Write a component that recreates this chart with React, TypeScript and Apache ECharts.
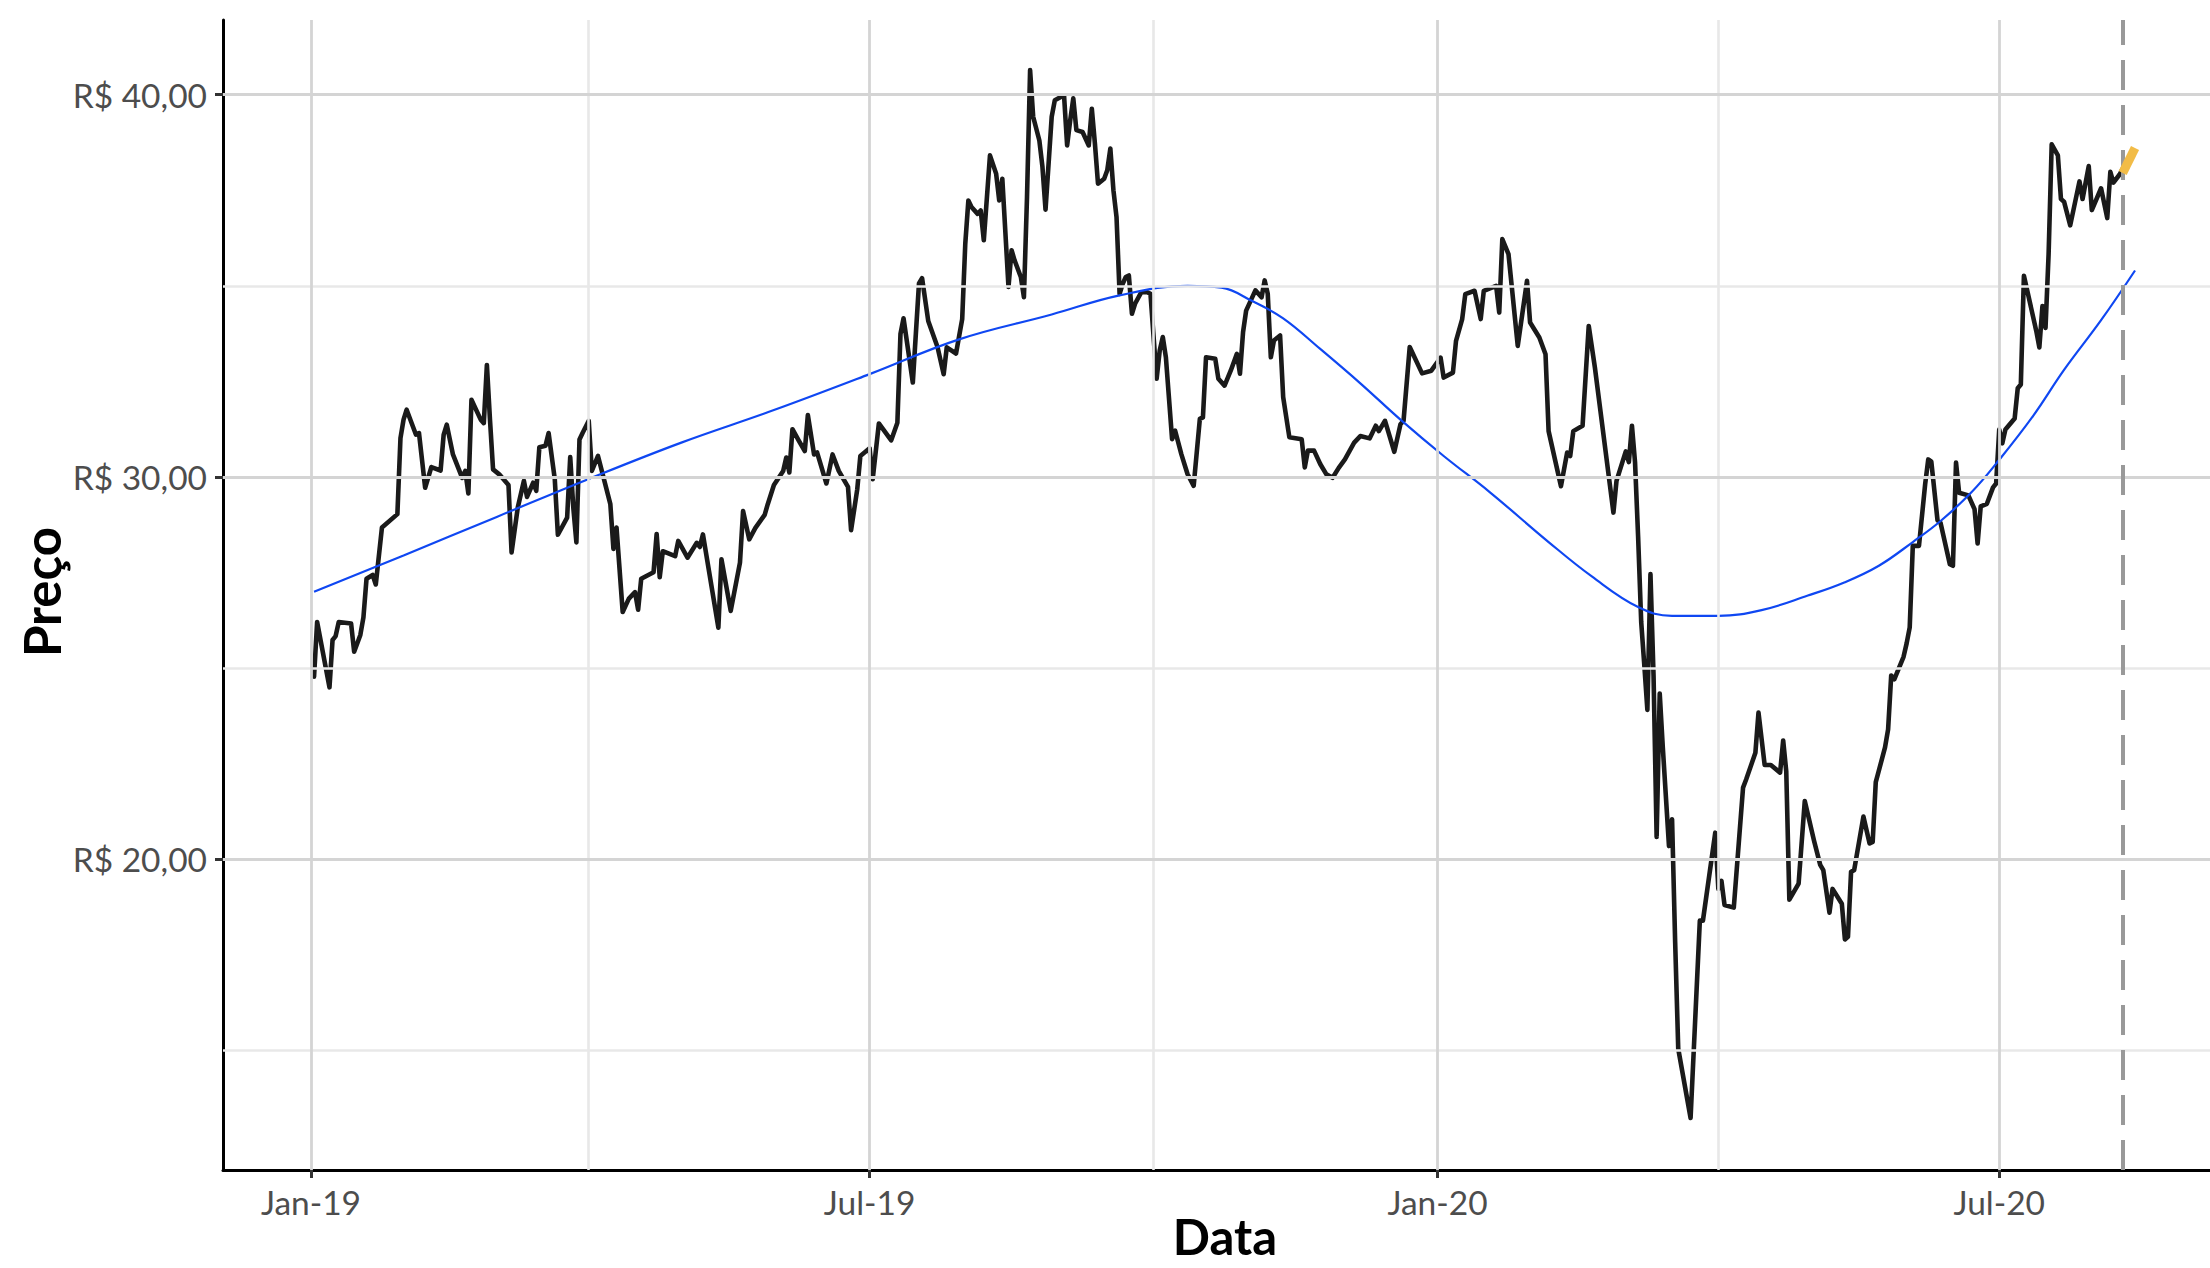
import React, { useEffect, useRef } from "react";
import * as echarts from "echarts";

// ---- data ----
const priceDates: string[] = [
  "2019-01-02","2019-01-03","2019-01-07","2019-01-08","2019-01-09","2019-01-10","2019-01-14","2019-01-15","2019-01-17","2019-01-18",
  "2019-01-19","2019-01-21","2019-01-22","2019-01-24","2019-01-29","2019-01-30","2019-01-31","2019-02-01","2019-02-04","2019-02-05",
  "2019-02-07","2019-02-09","2019-02-12","2019-02-13","2019-02-14","2019-02-16","2019-02-19","2019-02-20","2019-02-21","2019-02-22",
  "2019-02-25","2019-02-26","2019-02-27","2019-02-28","2019-03-01","2019-03-03","2019-03-06","2019-03-07","2019-03-09","2019-03-11",
  "2019-03-12","2019-03-14","2019-03-15","2019-03-16","2019-03-18","2019-03-19","2019-03-21","2019-03-22","2019-03-25","2019-03-26",
  "2019-03-27","2019-03-28","2019-03-29","2019-03-30","2019-04-01","2019-04-02","2019-04-04","2019-04-08","2019-04-09","2019-04-10",
  "2019-04-12","2019-04-14","2019-04-16","2019-04-17","2019-04-18","2019-04-22","2019-04-23","2019-04-24","2019-04-25","2019-04-29",
  "2019-04-30","2019-05-03","2019-05-06","2019-05-07","2019-05-08","2019-05-13","2019-05-14","2019-05-17","2019-05-20","2019-05-21",
  "2019-05-23","2019-05-25","2019-05-28","2019-05-29","2019-05-31","2019-06-03","2019-06-04","2019-06-05","2019-06-06","2019-06-08",
  "2019-06-10","2019-06-11","2019-06-13","2019-06-14","2019-06-17","2019-06-19","2019-06-21","2019-06-24","2019-06-25","2019-06-27",
  "2019-06-28","2019-07-01","2019-07-02","2019-07-04","2019-07-08","2019-07-10","2019-07-11","2019-07-12","2019-07-15","2019-07-17",
  "2019-07-18","2019-07-20","2019-07-23","2019-07-25","2019-07-26","2019-07-29","2019-07-31","2019-08-01","2019-08-02","2019-08-03",
  "2019-08-05","2019-08-06","2019-08-07","2019-08-09","2019-08-11","2019-08-12","2019-08-13","2019-08-15","2019-08-16","2019-08-17",
  "2019-08-19","2019-08-20","2019-08-21","2019-08-22","2019-08-23","2019-08-25","2019-08-26","2019-08-27","2019-08-29","2019-08-30",
  "2019-09-02","2019-09-03","2019-09-04","2019-09-05","2019-09-06","2019-09-08","2019-09-10","2019-09-11","2019-09-12","2019-09-13",
  "2019-09-15","2019-09-16","2019-09-17","2019-09-18","2019-09-19","2019-09-20","2019-09-21","2019-09-22","2019-09-23","2019-09-24",
  "2019-09-25","2019-09-27","2019-09-29","2019-09-30","2019-10-02","2019-10-03","2019-10-04","2019-10-05","2019-10-07","2019-10-08",
  "2019-10-10","2019-10-12","2019-10-14","2019-10-16","2019-10-17","2019-10-18","2019-10-21","2019-10-22","2019-10-24","2019-10-26",
  "2019-10-28","2019-10-29","2019-10-30","2019-10-31","2019-11-03","2019-11-05","2019-11-06","2019-11-07","2019-11-08","2019-11-09",
  "2019-11-11","2019-11-12","2019-11-14","2019-11-18","2019-11-19","2019-11-20","2019-11-22","2019-11-24","2019-11-26","2019-11-28",
  "2019-11-30","2019-12-02","2019-12-05","2019-12-07","2019-12-10","2019-12-12","2019-12-13","2019-12-15","2019-12-18","2019-12-20",
  "2019-12-21","2019-12-23","2019-12-27","2019-12-30","2020-01-02","2020-01-03","2020-01-06","2020-01-07","2020-01-09","2020-01-10",
  "2020-01-13","2020-01-15","2020-01-16","2020-01-20","2020-01-21","2020-01-22","2020-01-24","2020-01-27","2020-01-30","2020-01-31",
  "2020-02-03","2020-02-05","2020-02-06","2020-02-10","2020-02-12","2020-02-13","2020-02-14","2020-02-17","2020-02-19","2020-02-21",
  "2020-02-27","2020-02-28","2020-03-02","2020-03-03","2020-03-04","2020-03-05","2020-03-06","2020-03-07","2020-03-08","2020-03-09",
  "2020-03-10","2020-03-11","2020-03-12","2020-03-13","2020-03-14","2020-03-16","2020-03-17","2020-03-18","2020-03-19","2020-03-23",
  "2020-03-26","2020-03-27","2020-03-31","2020-04-01","2020-04-02","2020-04-03","2020-04-06","2020-04-09","2020-04-10","2020-04-13",
  "2020-04-14","2020-04-16","2020-04-18","2020-04-21","2020-04-22","2020-04-23","2020-04-24","2020-04-27","2020-04-29","2020-05-02",
  "2020-05-04","2020-05-05","2020-05-07","2020-05-08","2020-05-11","2020-05-12","2020-05-13","2020-05-14","2020-05-15","2020-05-18",
  "2020-05-20","2020-05-21","2020-05-22","2020-05-25","2020-05-26","2020-05-27","2020-05-28","2020-05-31","2020-06-01","2020-06-02",
  "2020-06-03","2020-06-05","2020-06-07","2020-06-08","2020-06-09","2020-06-11","2020-06-12","2020-06-15","2020-06-16","2020-06-17",
  "2020-06-18","2020-06-21","2020-06-23","2020-06-24","2020-06-25","2020-06-27","2020-06-29","2020-06-30","2020-07-01","2020-07-02",
  "2020-07-03","2020-07-06","2020-07-07","2020-07-08","2020-07-09","2020-07-13","2020-07-14","2020-07-15","2020-07-16","2020-07-17",
  "2020-07-18","2020-07-20","2020-07-21","2020-07-22","2020-07-24","2020-07-27","2020-07-28","2020-07-30","2020-07-31","2020-08-03",
  "2020-08-05","2020-08-06","2020-08-07","2020-08-09","2020-08-10",
];

const priceValues: number[] = [
  24.78,26.21,24.5,25.74,25.84,26.21,26.17,25.43,25.87,26.33,
  27.34,27.44,27.19,28.68,29.03,31.02,31.5,31.76,31.11,31.15,
  29.72,30.26,30.17,31.11,31.37,30.59,29.98,30.16,29.57,32.02,
  31.5,31.41,32.93,31.5,30.2,30.07,29.79,28.03,29.2,29.9,
  29.48,29.85,29.64,30.78,30.82,31.15,29.94,28.49,28.94,30.52,
  29.2,28.29,30.98,31.15,31.47,30.16,30.55,29.29,28.12,28.68,
  26.47,26.82,26.99,26.53,27.34,27.51,28.51,27.38,28.06,27.93,
  28.33,27.89,28.28,28.17,28.5,26.06,27.85,26.5,27.76,29.11,
  28.37,28.67,29.01,29.29,29.79,30.16,30.51,30.12,31.25,30.96,
  30.68,31.62,30.59,30.64,29.83,30.59,30.16,29.74,28.61,29.68,
  30.55,30.75,29.94,31.4,30.96,31.42,33.74,34.15,32.47,35.06,
  35.2,34.08,33.4,32.69,33.39,33.23,34.13,36.1,37.23,37.06,
  36.88,36.97,36.19,38.41,37.93,37.23,37.8,34.97,35.93,35.66,
  35.23,34.7,37.32,40.64,39.42,38.8,38.11,36.99,39.42,39.85,
  39.98,38.67,39.33,39.9,39.07,39.02,38.67,39.63,38.72,37.67,
  37.8,38.02,38.59,37.5,36.8,34.79,35.05,35.23,35.27,34.27,
  34.53,34.83,34.83,34.79,32.57,33.31,33.66,33.13,30.99,31.21,
  30.6,30.08,29.77,31.52,31.56,33.13,33.09,32.57,32.39,32.78,
  33.22,32.7,33.79,34.35,34.88,34.7,35.14,34.79,33.13,33.57,
  33.7,32.09,31.04,30.99,30.25,30.69,30.69,30.34,30.07,29.98,
  30.24,30.46,30.9,31.07,31.01,31.34,31.2,31.47,30.66,31.38,
  31.47,33.4,32.71,32.78,33.12,32.6,32.73,33.56,34.13,34.78,
  34.87,34.13,34.87,35.0,34.3,36.22,35.83,33.43,35.13,34.04,
  33.65,33.21,31.2,29.76,30.64,30.55,31.2,31.34,33.95,32.86,
  29.07,29.9,30.67,30.39,31.34,30.39,28.44,26.21,25.09,23.91,
  27.46,24.81,20.59,24.34,22.93,20.35,21.05,17.84,15.05,13.24,
  18.4,18.4,20.7,19.23,19.44,18.81,18.74,21.88,22.09,22.79,
  23.84,22.47,22.47,22.27,23.11,22.3,18.95,19.37,21.53,20.49,
  19.86,19.72,18.61,19.23,18.84,17.91,17.98,19.68,19.72,21.12,
  20.42,20.46,22.02,22.93,23.4,24.81,24.71,25.3,25.65,26.07,
  28.2,28.2,29.81,30.46,30.4,28.87,28.8,27.72,27.68,30.38,
  29.59,29.52,29.16,28.26,29.23,29.3,29.73,29.83,31.24,30.88,
  31.24,31.53,32.32,32.42,35.26,33.82,33.39,34.47,33.9,35.83,
  38.7,38.41,37.27,37.2,36.58,37.73,37.27,38.13,36.98,37.55,
  36.77,37.98,37.7,37.91,38.06,
];

const trendDates: string[] = [
  "2019-01-02","2019-01-31","2019-03-02","2019-04-01","2019-05-01","2019-05-31","2019-07-01","2019-07-30","2019-08-29","2019-09-20",
  "2019-10-12","2019-10-23","2019-11-02","2019-11-12","2019-11-24","2019-12-07","2019-12-20","2020-01-03","2020-01-18","2020-02-06",
  "2020-02-20","2020-03-06","2020-03-17","2020-04-01","2020-04-15","2020-04-30","2020-05-12","2020-05-23","2020-06-03","2020-06-12",
  "2020-06-22","2020-07-01","2020-07-12","2020-07-22","2020-08-03","2020-08-14",
];
const trendValues: number[] = [
  27.0,27.95,28.95,29.95,30.9,31.75,32.69,33.6,34.25,34.75,
  35.0,34.95,34.6,34.15,33.35,32.45,31.5,30.55,29.6,28.3,
  27.4,26.6,26.37,26.37,26.52,26.9,27.25,27.68,28.3,28.85,
  29.6,30.45,31.6,32.8,34.1,35.4,
];

const forecastDates: string[] = ["2020-08-10", "2020-08-14"];
const forecastValues: number[] = [37.95, 38.6];

const cutoffDate = "2020-08-10";

const yLabelTicks: number[] = [20, 30, 40];
const yMinorGrid: number[] = [15, 25, 35];
const xLabelTicks: string[] = ["2019-01-01", "2019-07-01", "2020-01-01", "2020-07-01"];
const xMinorGrid: string[] = ["2019-04-01", "2019-10-01", "2020-04-01"];
const monthNames: string[] = ["Jan","Feb","Mar","Apr","May","Jun","Jul","Aug","Sep","Oct","Nov","Dec"];

const yRange = [11.88, 41.95];
const xRangeStart = "2018-12-03T12:00:00";
const xRangeEnd = "2020-09-07T07:00:00";

const FONT = "Lato";

function ts(s: string): number {
  if (s.length === 10) {
    const [y, m, d] = s.split("-").map(Number);
    return new Date(y, m - 1, d).getTime();
  }
  return new Date(s).getTime();
}

export default function App() {
  const ref = useRef<HTMLDivElement>(null);
  useEffect(() => {
    if (!ref.current) return;
    const chart = echarts.init(ref.current, undefined, { renderer: "svg" });
    const majorColor = "#d4d4d4";
    const minorColor = "#e8e8e8";
    const option: any = {
      animation: false,
      backgroundColor: "#ffffff",
      grid: { left: 223, right: 0, top: 20, bottom: 98, containLabel: false },
      xAxis: {
        type: "value",
        min: ts(xRangeStart),
        max: ts(xRangeEnd),
        scale: true,
        splitLine: { show: false },
        axisLine: { show: true, onZero: false, lineStyle: { color: "#000000", width: 3 } },
        axisTick: {
          show: true,
          length: 8,
          lineStyle: { color: "#333333", width: 3 },
          customValues: xLabelTicks.map(ts),
        },
        axisLabel: {
          show: true,
          margin: 15,
          fontFamily: FONT,
          fontSize: 33.5,
          color: "#4d4d4d",
          customValues: xLabelTicks.map(ts),
          formatter: (v: number) => {
            const d = new Date(v);
            return monthNames[d.getMonth()] + "-" + String(d.getFullYear()).slice(2);
          },
        },
      },
      yAxis: {
        type: "value",
        min: yRange[0],
        max: yRange[1],
        splitLine: { show: false },
        axisLine: { show: true, onZero: false, lineStyle: { color: "#000000", width: 3 } },
        axisTick: {
          show: true,
          length: 8,
          lineStyle: { color: "#333333", width: 3 },
          customValues: yLabelTicks,
        },
        axisLabel: {
          show: true,
          margin: 16,
          fontFamily: FONT,
          fontSize: 33.5,
          color: "#4d4d4d",
          customValues: yLabelTicks,
          formatter: (v: number) => "R$ " + v.toFixed(2).replace(".", ","),
        },
      },
      graphic: [
        {
          type: "text",
          x: 1225,
          y: 1236,
          style: {
            text: "Data",
            font: `bold 49px ${FONT}`,
            lineHeight: 46,
            fill: "#000000",
            align: "center",
            verticalAlign: "middle",
          },
        },
        {
          type: "text",
          x: 41,
          y: 592,
          rotation: Math.PI / 2,
          style: {
            text: "Preço",
            font: `bold 51px ${FONT}`,
            lineHeight: 48,
            fill: "#000000",
            align: "center",
            verticalAlign: "middle",
          },
        },
      ],
      series: [
        {
          name: "grid",
          type: "line",
          data: [],
          z: 0,
          silent: true,
          markLine: {
            silent: true,
            symbol: "none",
            label: { show: false },
            animation: false,
            data: [
              ...yMinorGrid.map((v) => ({ yAxis: v, lineStyle: { color: minorColor, width: 2.6, type: "solid" } })),
              ...xMinorGrid.map((d) => ({ xAxis: ts(d), lineStyle: { color: minorColor, width: 2.6, type: "solid" } })),
              ...yLabelTicks.map((v) => ({ yAxis: v, lineStyle: { color: majorColor, width: 2.8, type: "solid" } })),
              ...xLabelTicks.map((d) => ({ xAxis: ts(d), lineStyle: { color: majorColor, width: 2.8, type: "solid" } })),
            ],
          },
        },
        {
          name: "Preço",
          type: "line",
          data: priceDates.map((d, i) => [ts(d), priceValues[i]]),
          showSymbol: false,
          symbol: "none",
          z: 3,
          lineStyle: { color: "#1a1a1a", width: 4.6, join: "round", cap: "round" },
        },
        {
          name: "Tendência",
          type: "line",
          data: trendDates.map((d, i) => [ts(d), trendValues[i]]),
          showSymbol: false,
          symbol: "none",
          smooth: 0.4,
          z: 4,
          lineStyle: { color: "#0f47f2", width: 2.2 },
        },
        {
          name: "Previsão",
          type: "line",
          data: forecastDates.map((d, i) => [ts(d), forecastValues[i]]),
          showSymbol: false,
          symbol: "none",
          z: 5,
          lineStyle: { color: "#f2bc47", width: 9, cap: "butt" },
          markLine: {
            silent: true,
            symbol: "none",
            label: { show: false },
            animation: false,
            data: [{ xAxis: ts(cutoffDate) }],
            lineStyle: { color: "#999999", width: 4, type: [30, 15] },
          },
        },
      ],
    };
    chart.setOption(option);
    return () => chart.dispose();
  }, []);
  return (
    <div
      ref={ref}
      style={{ position: "fixed", left: 0, top: 0, width: "2210px", height: "1268px", background: "#fff" }}
    />
  );
}
